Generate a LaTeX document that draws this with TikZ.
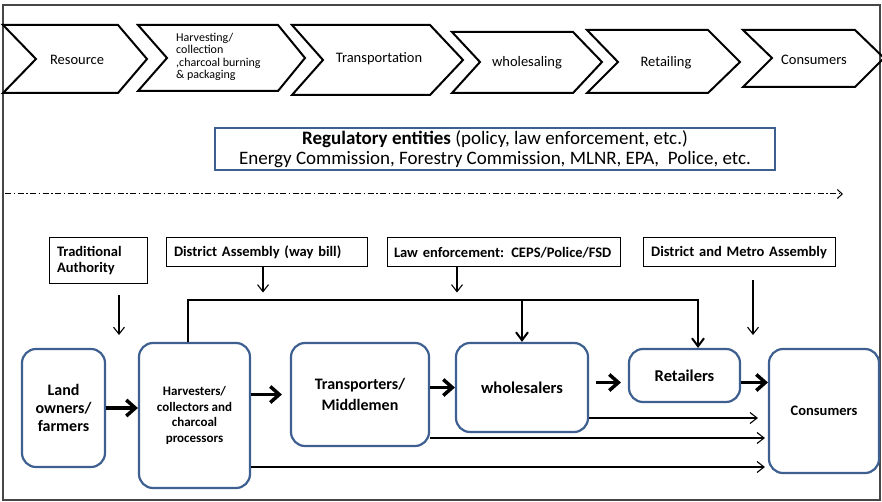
\documentclass[tikz,border=0pt]{standalone}
\usepackage{fontspec}
\setmainfont{Carlito}
\usetikzlibrary{arrows.meta, calc}
\definecolor{boxblue}{RGB}{62,96,145}
\definecolor{framegray}{RGB}{70,70,70}

\begin{document}
\begin{tikzpicture}[x=1pt, y=-1pt,
            chev/.style={draw, line width=2pt, line join=miter},
            chevlabel/.style={font=\fontsize{14.5}{16}\selectfont, inner sep=0pt},
            actor/.style={rectangle, rounded corners=14pt, draw=boxblue, line width=2.2pt, align=center, font=\bfseries\fontsize{16}{18}\selectfont},
            agency/.style={rectangle, draw, line width=1pt, inner xsep=8pt, font=\bfseries\fontsize{14.5}{16}\selectfont},
            bigarrow/.style={-{Straight Barb[length=9pt,width=16pt]}, line width=3.5pt},
            busarrow/.style={-{Straight Barb[length=8pt,width=12pt]}, line width=2pt},
            arrow/.style={-{Straight Barb[length=7pt,width=11pt]}, line width=1.1pt}
        ]
            \useasboundingbox (0,0) rectangle (882,502);
            \draw[framegray, line width=1.5pt] (3,5) rectangle (880,500);

% Value chain stages
            \draw[chev] (3,25) -- (118,25) -- (147,59) -- (118,93) -- (3,93) -- (36,59) -- cycle;
            \node[chevlabel] (resource) at (77,60) {Resource};
            \draw[chev] (138,25) -- (278,25) -- (305,58) -- (278,91) -- (138,91) -- (167,58) -- cycle;
            \node[chevlabel, font=\fontsize{12}{12.5}\selectfont, align=left, anchor=west] (harvest) at (176,57) {Harvesting/\\collection\\,charcoal burning\\\& packaging};
            \draw[chev] (292,25) -- (430,25) -- (463,60) -- (430,95) -- (292,95) -- (323,60) -- cycle;
            \node[chevlabel] (transport) at (379,59) {Transportation};
            \draw[chev] (452,32) -- (573,32) -- (602,62) -- (573,93) -- (452,93) -- (480,62) -- cycle;
            \node[chevlabel] (wholesale) at (527,63) {wholesaling};
            \draw[chev] (587,30) -- (708,30) -- (740,62) -- (708,93) -- (587,93) -- (618,62) -- cycle;
            \node[chevlabel] (retail) at (666,63) {Retailing};
            \draw[chev] (743,30) -- (855,30) -- (884,58) -- (855,87) -- (743,87) -- (772,58) -- cycle;
            \node[chevlabel] (consume) at (814,60) {Consumers};

% Regulators
            \node[draw=boxblue, line width=1.5pt, minimum width=560pt, minimum height=42pt, inner sep=1pt, align=center, font=\fontsize{19}{20.5}\selectfont] (reg) at (495,149) {\textbf{Regulatory entities} (policy, law enforcement, etc.)\\Energy Commission, Forestry Commission, MLNR, EPA,\ \ Police, etc.};
            \coordinate (flowL) at (5,194);
            \coordinate (flowR) at (843,194);
            \draw[line width=1pt, dash pattern=on 6pt off 2.5pt on 1.5pt off 2.5pt, -{Straight Barb[length=5pt,width=9pt]}] (flowL) -- (flowR);

% Agencies
            \node[agency, text width=82pt, minimum height=45pt, align=left] (trad) at (98,260.5) {Traditional\\Authority};
            \node[agency, text width=185pt, minimum height=29pt, align=left] (dist) at (266.5,252.5) {District Assembly (way bill)};
            \node[agency, text width=219pt, inner xsep=7pt, minimum height=29pt, align=left] (law) at (503.5,252.5) {Law enforcement: CEPS/Police/FSD};
            \node[agency, text width=176pt, minimum height=29pt, align=center] (metro) at (739,252.5) {District and Metro Assembly};

% Actors
            \node[actor, minimum width=83pt, minimum height=118pt] (land) at (63.5,408) {Land\\owners/\\farmers};
            \node[actor, minimum width=111pt, minimum height=145pt, font=\bfseries\fontsize{13}{15.5}\selectfont] (harv) at (194.5,415.5) {Harvesters/\\collectors and\\charcoal\\processors};
            \node[actor, minimum width=138pt, minimum height=103pt, font=\bfseries\fontsize{16}{21}\selectfont] (trans) at (360,394.5) {Transporters/\\Middlemen};
            \node[actor, minimum width=132pt, minimum height=89pt, font=\bfseries\fontsize{16.5}{18}\selectfont] (whole) at (522,387.5) {wholesalers};
            \node[actor, minimum width=111pt, minimum height=53pt, font=\bfseries\fontsize{16.5}{18}\selectfont] (ret) at (684.5,375.5) {Retailers};
            \node[actor, minimum width=110pt, minimum height=124pt, font=\bfseries\fontsize{14.5}{16}\selectfont] (cons) at (824,411) {Consumers};

% Regulation arrows
            \coordinate (tradA) at (119,295);
            \coordinate (tradB) at (119,335);
            \draw[arrow] (tradA) -- (tradB);
            \draw[arrow] ([xshift=-3.5pt]dist.south) -- ++(0,25);
            \draw[arrow] ([xshift=-46.5pt]law.south) -- ++(0,25);
            \coordinate (metroA) at (753,280);
            \coordinate (metroB) at (753,335);
            \draw[arrow] (metroA) -- (metroB);

            \draw[busarrow] ([xshift=-6.5pt]harv.north) -- ++(0,-42) coordinate (busL) -| ([xshift=13.5pt]ret.north);
            \draw[busarrow] (whole.north |- busL) -- (whole.north);

% Product flow
            \draw[bigarrow] (land.east) -- (land.east -| harv.west);
            \draw[bigarrow, shorten >=8pt] (trans.west -| harv.east) -- (trans.west);
            \draw[bigarrow] (trans.east |- whole.west) -- (whole.west);
            \coordinate (retIn) at ([yshift=-7pt]ret.west);
            \coordinate (retOut) at ([yshift=-7pt]ret.east);
            \draw[bigarrow, shorten <=7pt, shorten >=7pt] (whole.east |- retIn) -- (retIn);
            \draw[bigarrow] (retOut) -- (retOut -| cons.west);

% Direct sales to consumers
            \coordinate (wholeOut) at ([yshift=-30.5pt]whole.east);
            \coordinate (transOut) at ([yshift=-43.5pt]trans.east);
            \coordinate (harvOut) at ([yshift=-51.5pt]harv.east);
            \draw[arrow, shorten >=10pt] (wholeOut) -- (wholeOut -| cons.west);
            \draw[arrow, shorten >=3pt] (transOut) -- (transOut -| cons.west);
            \draw[arrow, shorten >=3pt] (harvOut) -- (harvOut -| cons.west);

        \end{tikzpicture}
\end{document}
